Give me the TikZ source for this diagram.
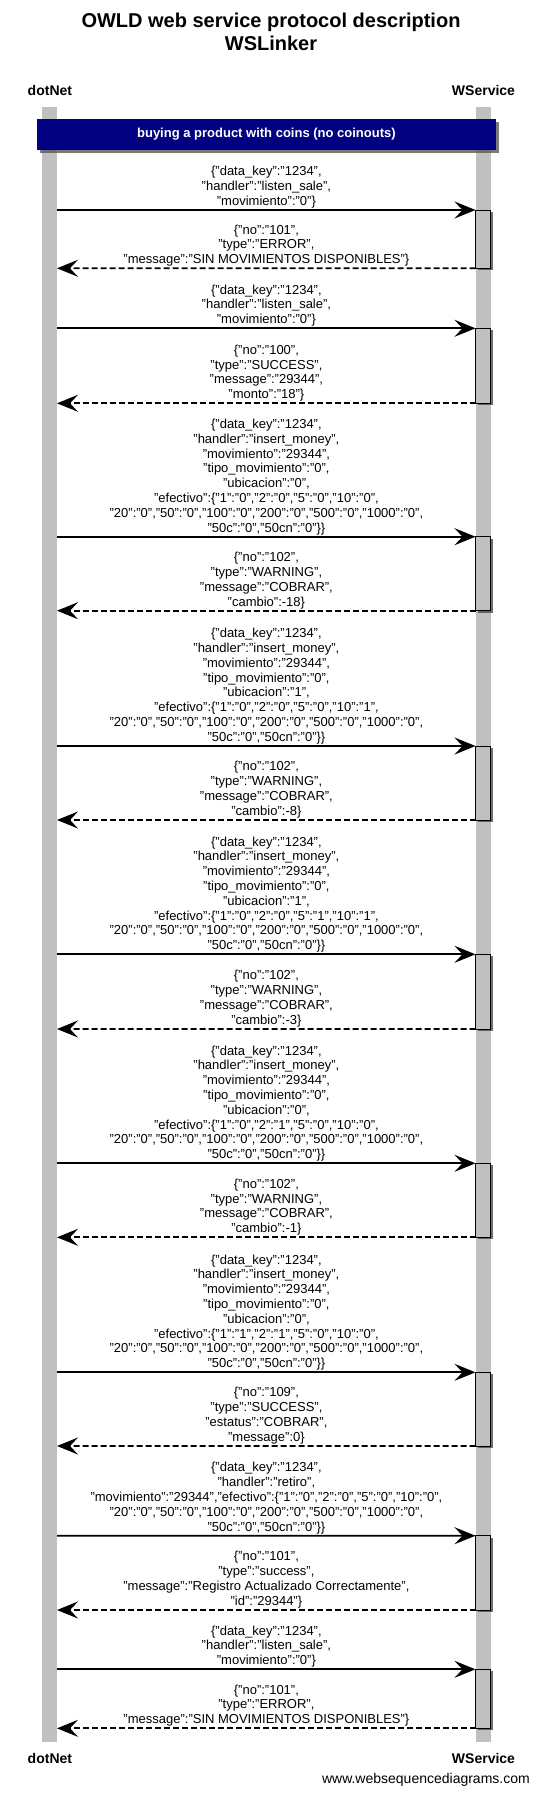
\documentclass[tikz,border=0pt]{standalone}
\usepackage{fontspec}
\setmainfont{Liberation Sans}
\usetikzlibrary{arrows.meta,shadows}
\definecolor{lifegray}{HTML}{C0C0C0}
\definecolor{notenavy}{HTML}{000080}
\newcommand{\LBr}{\{}
\newcommand{\RBr}{\}}
\newcommand{\efftail}{"20":"0","50":"0","100":"0","200":"0","500":"0","1000":"0",\\"50c":"0","50cn":"0"\RBr\RBr}
\newcommand{\insreq}[5]{\LBr"data\_key":"1234",\\"handler":"insert\_money",\\"movimiento":"29344",\\"tipo\_movimiento":"0",\\"ubicacion":"#1",\\"efectivo":\LBr"1":"#2","2":"#3","5":"#4","10":"#5",\\\efftail}
\newcommand{\lsreq}{\LBr"data\_key":"1234",\\"handler":"listen\_sale",\\"movimiento":"0"\RBr}
\newcommand{\errresp}{\LBr"no":"101",\\"type":"ERROR",\\"message":"SIN MOVIMIENTOS DISPONIBLES"\RBr}
\newcommand{\warnresp}[1]{\LBr"no":"102",\\"type":"WARNING",\\"message":"COBRAR",\\"cambio":#1\RBr}
\begin{document}
\begin{tikzpicture}[x=1pt,y=-1pt,
  titletext/.style={font=\fontsize{20}{23.5}\selectfont\bfseries, align=center, inner sep=0pt},
  part/.style={font=\fontsize{14}{16}\selectfont\bfseries, inner sep=0pt},
  lifebar/.style={fill=lifegray, draw=none, minimum width=14.7pt, inner sep=0pt, outer sep=0pt},
  notebox/.style={fill=notenavy, draw=none, text=white, font=\fontsize{13}{15}\selectfont\bfseries,
     minimum width=459pt, minimum height=30.5pt, inner sep=0pt,
     drop shadow={shadow xshift=3pt, shadow yshift=-3pt, fill=black!65, opacity=0.8}},
  actbox/.style={fill=lifegray, draw=black, line width=1pt, minimum width=15pt, inner sep=0pt, outer sep=0pt,
     drop shadow={shadow xshift=2pt, shadow yshift=-2pt, fill=black!70, opacity=0.8}},
  reqarrow/.style={line width=1.7pt, -{Stealth[length=21pt,width=17pt,inset=8pt]}},
  resparrow/.style={reqarrow, line width=1.8pt, dash pattern=on 6pt off 3pt},
  msg/.style={align=center, font=\fontsize{13}{14.8}\selectfont, inner sep=0pt, anchor=south,
     execute at end node=\strut},
  footer/.style={font=\fontsize{14}{16}\selectfont, inner sep=0pt, anchor=east}
]
\useasboundingbox (0,0) rectangle (540,1799);
\fill[white] (0,0) rectangle (540,1799);

% title and participants
\node[titletext] (title) at (271,31.7) {OWLD web service protocol description\\WSLinker};
\node[part] (dnTop) at (49.9,90.7) {dotNet};
\node[part] (wsTop) at (483.5,90.7) {WService};
\node[part] (dnBot) at (49.9,1758.3) {dotNet};
\node[part] (wsBot) at (483.5,1758.3) {WService};

% lifelines
\node[lifebar, minimum height=1635pt] (lifeA) at (49.5,924.2) {};
\node[lifebar, minimum height=1635pt] (lifeB) at (483.2,924.2) {};

% note
\node[notebox] (note) at (266.4,134.6) {buying a product with coins (no coinouts)};

% activation boxes
\node[actbox, minimum height=58.3pt] (act1) at (483,239.15) {};
\node[actbox, minimum height=75pt]   (act2) at (483,365.8) {};
\node[actbox, minimum height=74pt]   (act3) at (483,573.7) {};
\node[actbox, minimum height=74pt]   (act4) at (483,783) {};
\node[actbox, minimum height=74.7pt] (act5) at (483,991.65) {};
\node[actbox, minimum height=74pt]   (act6) at (483,1200.3) {};
\node[actbox, minimum height=73.7pt] (act7) at (483,1409.15) {};
\node[actbox, minimum height=74.3pt] (act8) at (483,1572.85) {};
\node[actbox, minimum height=59pt]   (act9) at (483,1698.8) {};

% lifeline anchor points on dotNet side
\coordinate (s1) at (57,210);    \coordinate (e1) at (57,268.3);
\coordinate (s2) at (57,328.3);  \coordinate (e2) at (57,403.3);
\coordinate (s3) at (57,536.7);  \coordinate (e3) at (57,610.7);
\coordinate (s4) at (57,746);    \coordinate (e4) at (57,820);
\coordinate (s5) at (57,954.3);  \coordinate (e5) at (57,1029);
\coordinate (s6) at (57,1163.3); \coordinate (e6) at (57,1237.3);
\coordinate (s7) at (57,1372.3); \coordinate (e7) at (57,1446);
\coordinate (s8) at (57,1535.7); \coordinate (e8) at (57,1610);
\coordinate (s9) at (57,1669.3); \coordinate (e9) at (57,1728.3);

% connectors
\foreach \i in {1,...,9}{
  \draw[reqarrow] (s\i) -- (act\i.north west);
  \draw[resparrow] (act\i.south west) -- (e\i);
}

% labels
\node[msg] (q1) at (266.4,210) {\lsreq};
\node[msg] (r1) at (266.4,268.3) {\errresp};
\node[msg] (q2) at (266.4,328.3) {\lsreq};
\node[msg] (r2) at (266.4,403.3) {\LBr"no":"100",\\"type":"SUCCESS",\\"message":"29344",\\"monto":"18"\RBr};
\node[msg] (q3) at (266.4,536.7) {\insreq{0}{0}{0}{0}{0}};
\node[msg] (r3) at (266.4,610.7) {\warnresp{-18}};
\node[msg] (q4) at (266.4,746) {\insreq{1}{0}{0}{0}{1}};
\node[msg] (r4) at (266.4,820) {\warnresp{-8}};
\node[msg] (q5) at (266.4,954.3) {\insreq{1}{0}{0}{1}{1}};
\node[msg] (r5) at (266.4,1029) {\warnresp{-3}};
\node[msg] (q6) at (266.4,1163.3) {\insreq{0}{0}{1}{0}{0}};
\node[msg] (r6) at (266.4,1237.3) {\warnresp{-1}};
\node[msg] (q7) at (266.4,1372.3) {\insreq{0}{1}{1}{0}{0}};
\node[msg] (r7) at (266.4,1446) {\LBr"no":"109",\\"type":"SUCCESS",\\"estatus":"COBRAR",\\"message":0\RBr};
\node[msg] (q8) at (266.4,1535.7) {\LBr"data\_key":"1234",\\"handler":"retiro",\\"movimiento":"29344","efectivo":\LBr"1":"0","2":"0","5":"0","10":"0",\\\efftail};
\node[msg] (r8) at (266.4,1610) {\LBr"no":"101",\\"type":"success",\\"message":"Registro Actualizado Correctamente",\\"id":"29344"\RBr};
\node[msg] (q9) at (266.4,1669.3) {\lsreq};
\node[msg] (r9) at (266.4,1728.3) {\errresp};

% footer
\node[footer] (credit) at (530,1779.5) {www.websequencediagrams.com};
\end{tikzpicture}
\end{document}
